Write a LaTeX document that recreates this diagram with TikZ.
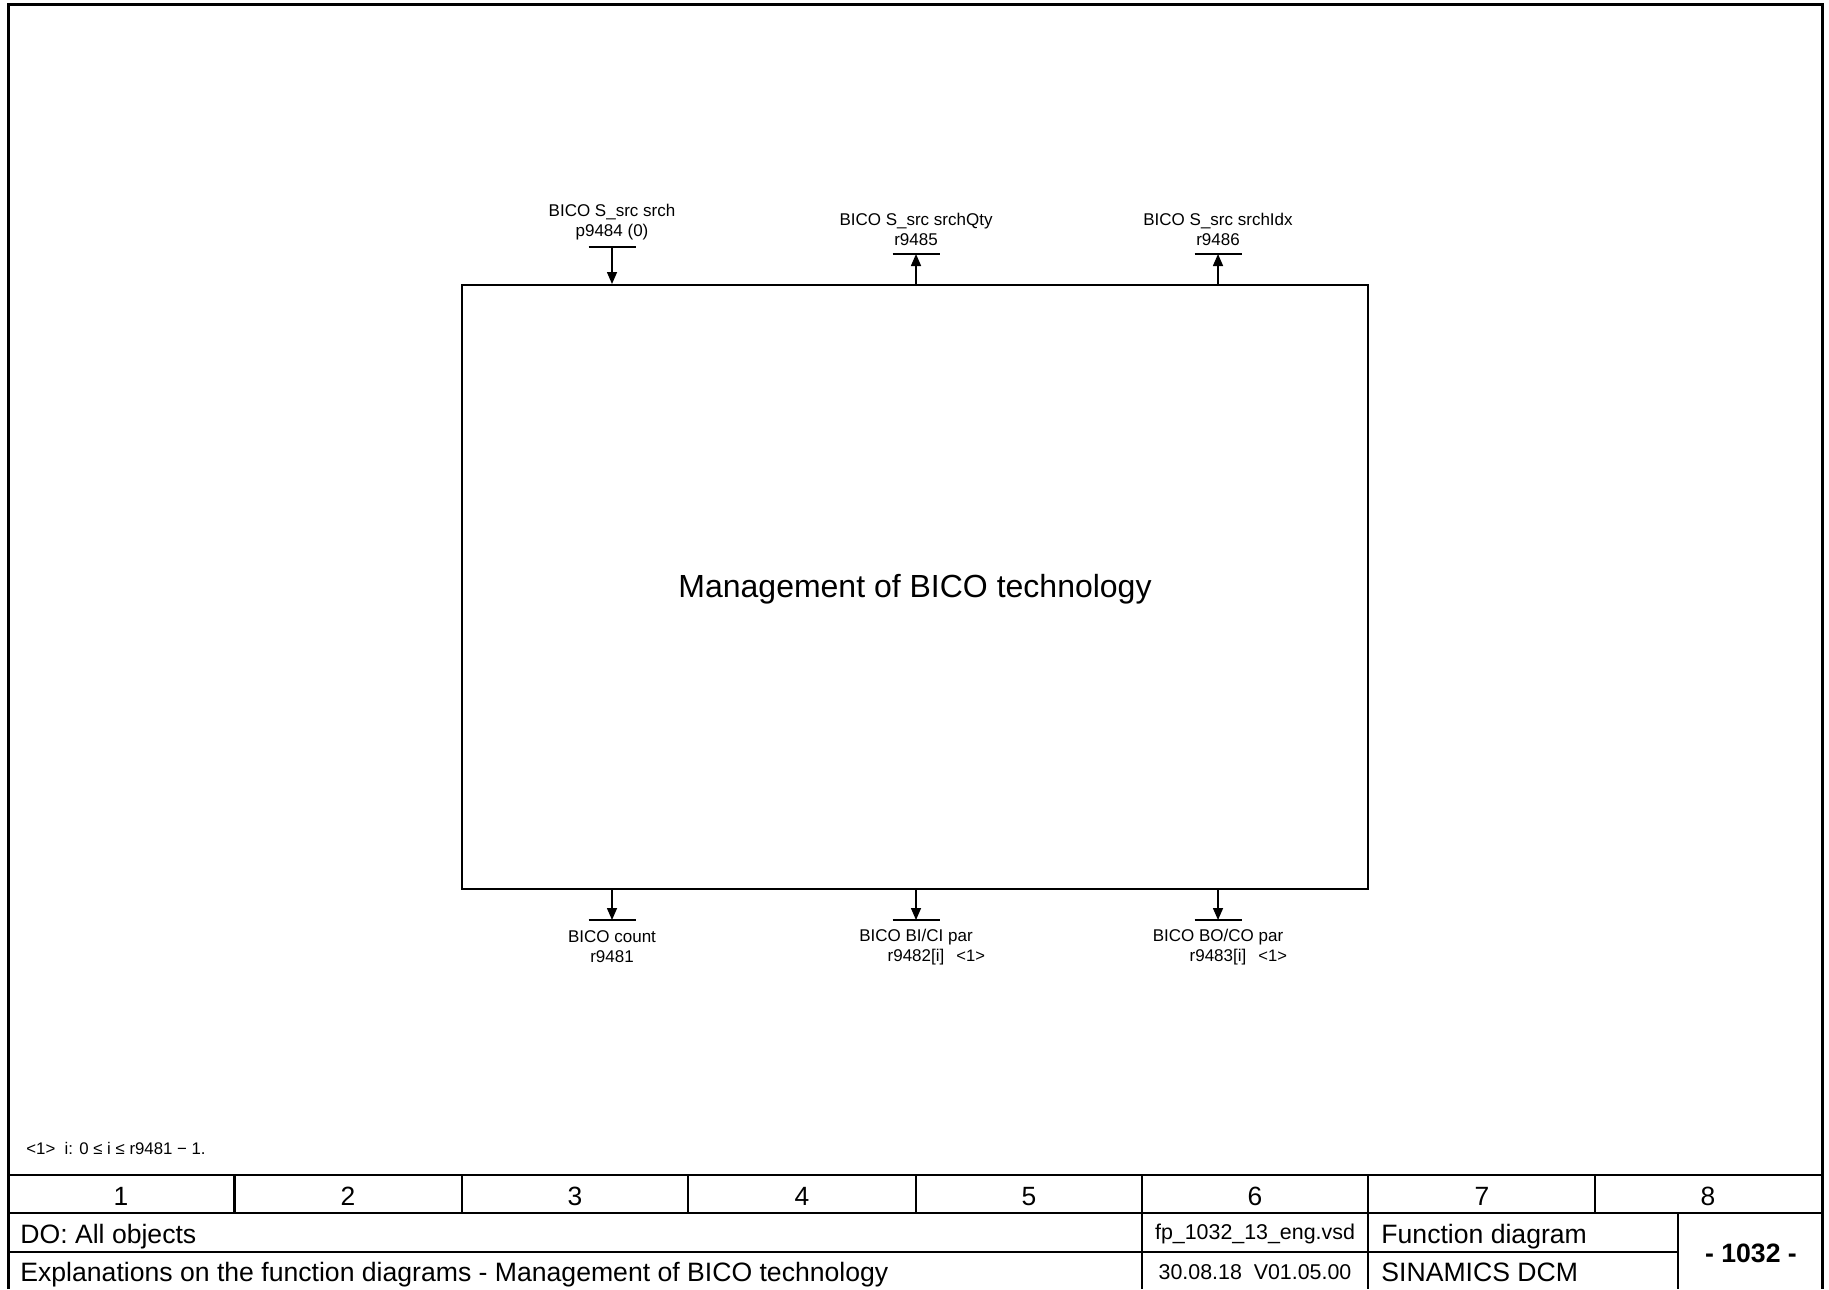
\documentclass[tikz,border=0pt]{standalone}
\usepackage{fontspec}
\setmainfont{Liberation Sans}
\usetikzlibrary{arrows.meta}

\begin{document}
\begin{tikzpicture}[x=0.5pt,y=-0.5pt,
  frame/.style={line width=1.5pt},
  grid/.style={line width=1.2pt},
  bar/.style={line width=0.9pt},
  flow/.style={line width=0.75pt,-{Triangle[length=6pt,width=5pt]}},
  lbl/.style={font=\fontsize{8.5}{10}\selectfont,align=center,inner sep=0pt},
  cellnum/.style={font=\fontsize{13.2}{15}\selectfont,inner sep=0pt},
  celltxt/.style={font=\fontsize{13.3}{15}\selectfont,inner sep=0pt,anchor=base west},
  cellsmall/.style={font=\fontsize{10.7}{12}\selectfont,inner sep=0pt},
]
\newcommand{\reftag}{\rlap{\hspace{6pt}{\fontsize{8.3}{9}\selectfont <1>}}}
\useasboundingbox (0,0) rectangle (1829,1289);

% sheet frame
\draw[frame] (8,1289) -- (8,5) -- (1822,5) -- (1822,1289);

% function block
\node (mainbox) [draw, line width=1pt, minimum width=453pt, minimum height=302pt,
  inner sep=0pt] at (915,587) {};
\node (blocktitle) [inner sep=0pt, font=\fontsize{16}{19}\selectfont] at (915,589.5)
  {Management of BICO technology};

% signal terminals (bars)
\coordinate (srch)  at (612,247);
\coordinate (qty)   at (916,254);
\coordinate (idx)   at (1218,254);
\coordinate (count) at (612,920);
\coordinate (bici)  at (916,920);
\coordinate (boco)  at (1218,920);
\foreach \c in {srch,qty,idx,count,bici,boco}
  \draw[bar] ([xshift=-11.75pt]\c) -- ([xshift=11.75pt]\c);

% connectors
\draw[flow] (srch) -- (srch |- mainbox.north);
\draw[flow] (qty |- mainbox.north) -- (qty);
\draw[flow] (idx |- mainbox.north) -- (idx);
\draw[flow] (count |- mainbox.south) -- (count);
\draw[flow] (bici |- mainbox.south) -- (bici);
\draw[flow] (boco |- mainbox.south) -- (boco);

% parameter labels
\node (lsrch) [lbl] at (612,222) {BICO S\_src srch\\p9484 (0)};
\node (lqty)  [lbl] at (916,229.5) {BICO S\_src srchQty\\r9485};
\node (lidx)  [lbl] at (1218,229.5) {BICO S\_src srchIdx\\r9486};
\node (lcount)[lbl] at (612,947) {BICO count\\r9481};
\node (lbici) [lbl] at (916,947) {BICO BI/CI par\\r9482[i]\reftag};
\node (lboco) [lbl] at (1218,947) {BICO BO/CO par\\r9483[i]\reftag};

% footnote
\node (note) [inner sep=0pt, anchor=west, font=\fontsize{8.4}{10}\selectfont] at (26,1148)
  {<1>\ \ i: 0 ≤ i ≤ r9481 − 1.};

% title block grid
\draw[grid] (8,1175) -- (1822,1175);
\draw[grid] (8,1213) -- (1822,1213);
\draw[grid] (8,1252) -- (1678,1252);
\foreach \x in {234.5,462,688,916,1142,1368,1595}
  \draw[grid] (\x,1175) -- (\x,1213);
\foreach \x in {1142,1368,1678}
  \draw[grid] (\x,1213) -- (\x,1289);

% column numbers
\foreach \i/\x in {1/121,2/348,3/575,4/802,5/1029,6/1255,7/1482,8/1708}
  \node (col\i) [cellnum] at (\x,1196.5) {\i};

% title block texts
\node (dobj)  [celltxt] at (20,1243) {DO: All objects};
\node (title) [celltxt] at (20,1281) {Explanations on the function diagrams - Management of BICO technology};
\node (file)  [cellsmall] at (1255,1234) {fp\_1032\_13\_eng.vsd};
\node (date)  [cellsmall] at (1255,1272) {30.08.18\ \ V01.05.00};
\node (kind)  [celltxt] at (1381,1243) {Function diagram};
\node (prod)  [celltxt] at (1381,1281) {SINAMICS DCM};
\node (page)  [inner sep=0pt, font=\fontsize{13.3}{15}\selectfont\bfseries] at (1751,1253) {- 1032 -};
\end{tikzpicture}
\end{document}
